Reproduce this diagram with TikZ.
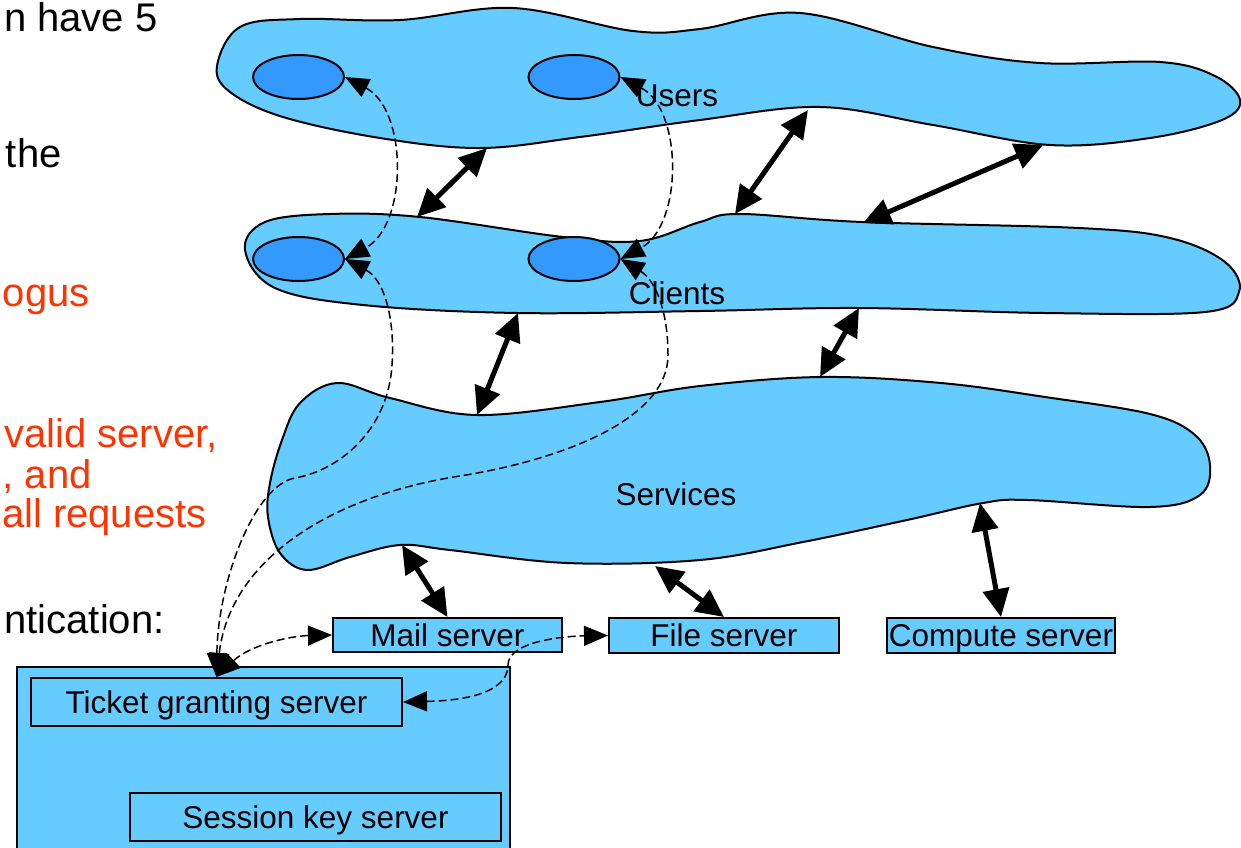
\documentclass[tikz,border=0pt]{standalone}
\usepackage{fontspec}
\setmainfont{Liberation Sans}
\usetikzlibrary{arrows.meta,shapes.geometric}
\definecolor{blobfill}{HTML}{66CCFF}
\definecolor{holder}{HTML}{3399FF}
\definecolor{alert}{HTML}{FF3300}

\begin{document}
\begin{tikzpicture}[x=0.5pt,y=-0.5pt,
  blob/.style={fill=blobfill, draw=black, line width=1pt},
  host/.style={ellipse, fill=holder, draw=black, line width=1pt,
    minimum width=45.5pt, minimum height=22pt, inner sep=0pt},
  srv/.style={rectangle, fill=blobfill, draw=black, line width=1pt,
    inner sep=0pt, text height=11.3pt, text depth=0pt,
    font=\fontsize{15.75}{18}\selectfont},
  lbl/.style={font=\fontsize{15.75}{18}\selectfont, inner sep=0pt,
    text height=11.3pt, text depth=0pt},
  side/.style={font=\fontsize{20}{24}\selectfont, anchor=base east, inner sep=0pt},
  link/.style={line width=2.5pt,
    {Triangle[length=14pt,width=13pt]}-{Triangle[length=14pt,width=13pt]}},
  flow/.style={line width=0.75pt, dash pattern=on 4pt off 2pt,
    {Triangle[length=12pt,width=10pt]}-{Triangle[length=12pt,width=10pt]}},
]
\useasboundingbox (0,0) rectangle (1241,847);
\clip (0,0) rectangle (1241,847);

% side text
\node[side] (t1) at (158,31) {n have 5};
\node[side] (t2) at (62,167) {the};
\node[side, text=alert] (t3) at (90,306) {ogus};
\node[side, text=alert] (t4) at (218,447) {valid server,};
\node[side, text=alert] (t5) at (92,488) {, and};
\node[side, text=alert] (t6) at (207,527) {all requests};
\node[side] (t7) at (165,633) {ntication:};

% layers
\draw[blob] plot[smooth cycle, tension=0.6] coordinates {
  (217,66) (240,27) (300,19) (400,20) (513,8) (633,31) (700,29) (800,13)
  (933,47) (1040,63) (1160,62) (1215,76) (1240,100) (1222,120) (1150,138)
  (1050,145) (933,125) (820,107) (700,120) (580,137) (480,148) (380,138)
  (283,117) (230,92)};
\draw[blob] plot[smooth cycle, tension=0.6] coordinates {
  (245,250) (265,222) (330,214) (420,217) (563,237) (640,241) (700,222)
  (740,214) (862,222) (1079,228) (1170,238) (1225,262) (1239,292) (1205,312)
  (1045,313) (859,308) (700,311) (517,313) (363,305) (275,288)};
\draw[blob] plot[smooth cycle, tension=0.6] coordinates {
  (282,440) (300,403) (337,383) (390,398) (477,415) (600,402) (700,386)
  (821,377) (941,383) (1045,397) (1150,414) (1195,435) (1210,465) (1200,495)
  (1150,507) (1028,500) (983,503) (907,520) (803,542) (700,560) (567,563)
  (450,550) (400,545) (350,557) (307,570) (280,553) (268,517) (270,483)};

% principals
\node[host] (ul) at (298.5,77) {};
\node[host] (ur) at (574,77) {};
\node[host] (cl) at (298.5,259) {};
\node[host] (cr) at (574,259) {};

\node[lbl] (users) at (677,95) {Users};
\node[lbl] (clients) at (677,293) {Clients};
\node[lbl] (services) at (676,494) {Services};

% servers
\node[srv, minimum width=114.5pt, minimum height=17pt] (mail) at (447.5,635) {Mail server};
\node[srv, minimum width=115pt, minimum height=17.5pt] (file) at (724,635.5) {File server};
\node[srv, minimum width=114pt, minimum height=17.5pt] (compute) at (1001,635.5) {Compute server};
\node[srv, minimum width=246.5pt, minimum height=101pt] (kdc) at (263.5,768) {};
\node[srv, minimum width=185.5pt, minimum height=24pt] (tgs) at (216.5,702) {Ticket granting server};
\node[srv, minimum width=185.5pt, minimum height=24pt] (sks) at (315.5,817) {Session key server};

% protocol exchanges
\draw[flow] (ul.east) .. controls (408,110) and (408,225) .. (cl.east);
\draw[flow] (ur.east) .. controls (683,110) and (683,225) .. (cr.east);
\draw[flow] (cl.east) .. controls (385,280) and (395,320) .. (392,365)
  .. controls (388,430) and (340,470) .. (295,478)
  .. controls (255,485) and (218,580) .. (tgs.north);
\draw[flow] (cr.east) .. controls (655,280) and (668,310) .. (668,355)
  .. controls (668,420) and (560,460) .. (460,476)
  .. controls (330,496) and (230,560) .. (tgs.north);
\draw[flow] (tgs.north) .. controls (250,645) and (290,636) .. (mail.west);
\draw[flow] (tgs.east) .. controls (485,700) and (508,685) .. (508,665)
  .. controls (508,640) and (570,636) .. (file.west);

% layer interactions
\coordinate (a1u) at (487,148); \coordinate (a1c) at (417,217);
\coordinate (a2u) at (808,110); \coordinate (a2c) at (735,214);
\coordinate (a3u) at (1043,145); \coordinate (a3c) at (863,223);
\coordinate (a4c) at (518,313); \coordinate (a4s) at (477,415);
\coordinate (a5c) at (859,308); \coordinate (a5s) at (820,377);
\coordinate (a6s) at (402,545);
\coordinate (a7s) at (655,566);
\coordinate (a8s) at (980,503);
\draw[link] (a1u) -- (a1c);
\draw[link] (a2u) -- (a2c);
\draw[link] (a3u) -- (a3c);
\draw[link] (a4c) -- (a4s);
\draw[link] (a5c) -- (a5s);
\draw[link] (a6s) -- (mail.north);
\draw[link] (a7s) -- (file.north);
\draw[link] (a8s) -- (compute.north);
\end{tikzpicture}
\end{document}
